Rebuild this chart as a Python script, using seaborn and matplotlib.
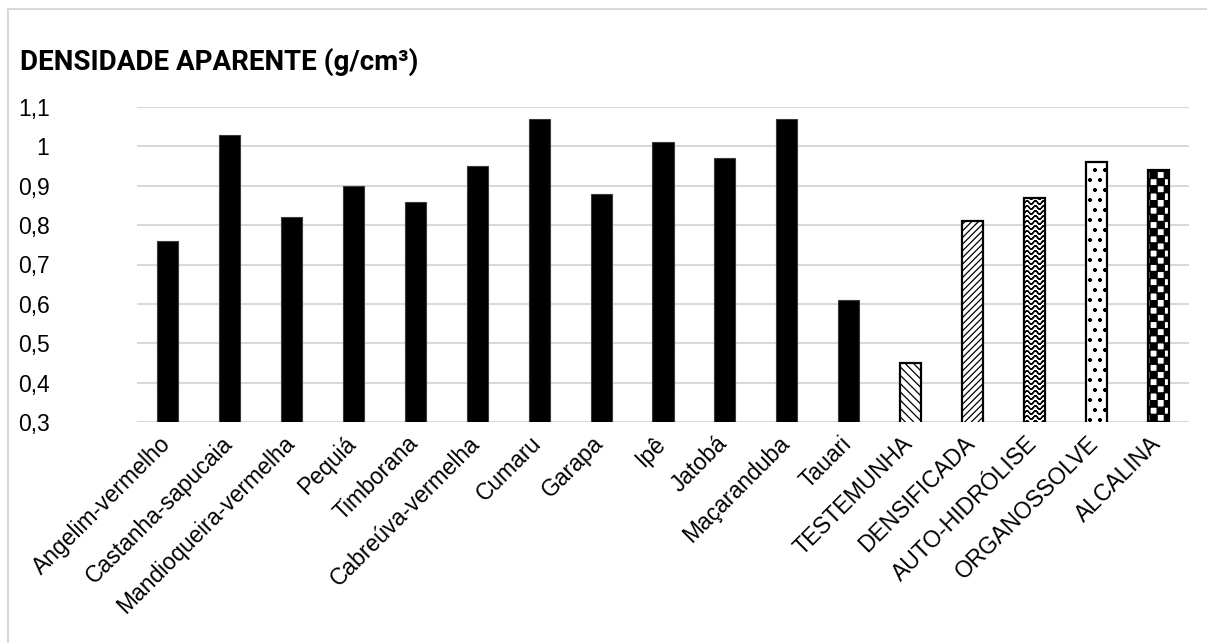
import warnings
import numpy as np
import matplotlib
matplotlib.use("Agg")
import matplotlib.pyplot as plt
import matplotlib.hatch as mhatch
from matplotlib.path import Path
from matplotlib.patches import Rectangle
import matplotlib.transforms as mtransforms
import seaborn as sns

warnings.filterwarnings("ignore")

# ---- data -----------------------------------------------------------------
categories = [
    "Angelim-vermelho", "Castanha-sapucaia", "Mandioqueira-vermelha", "Pequiá",
    "Timborana", "Cabreúva-vermelha", "Cumaru", "Garapa", "Ipê", "Jatobá",
    "Maçaranduba", "Tauari", "TESTEMUNHA", "DENSIFICADA", "AUTO-HIDRÓLISE",
    "ORGANOSSOLVE", "ALCALINA",
]
densidade = [0.76, 1.03, 0.82, 0.90, 0.86, 0.95, 1.07, 0.88, 1.01, 0.97,
             1.07, 0.61, 0.45, 0.81, 0.87, 0.96, 0.94]
y_ticks = [0.3, 0.4, 0.5, 0.6, 0.7, 0.8, 0.9, 1.0, 1.1]
y_tick_labels = ["0,3", "0,4", "0,5", "0,6", "0,7", "0,8", "0,9", "1", "1,1"]
title_text = "DENSIDADE APARENTE (g/cm³)"

# fill pattern per bar ("" = solid black)
bar_hatches = [""] * 12 + ["\\\\\\\\", "/////", "w", "d", "c"]


# ---- extra hatch patterns: checkerboard, waves, sparse dots ---------------
class CheckerHatch(mhatch.HatchPatternBase):
    def __init__(self, hatch, density):
        self.n = 14 if "c" in hatch else 0
        n = self.n
        self.cells = [(i, j) for i in range(n) for j in range(n) if (i + j) % 2 == 0]
        self.num_vertices = len(self.cells) * 5

    def set_vertices_and_codes(self, vertices, codes):
        s = 1.0 / self.n
        k = 0
        for i, j in self.cells:
            x0, y0 = i * s, j * s
            vertices[k:k + 5] = [(x0, y0), (x0 + s, y0), (x0 + s, y0 + s),
                                 (x0, y0 + s), (x0, y0)]
            codes[k:k + 5] = [Path.MOVETO, Path.LINETO, Path.LINETO,
                              Path.LINETO, Path.CLOSEPOLY]
            k += 5


class WaveHatch(mhatch.HatchPatternBase):
    def __init__(self, hatch, density):
        self.rows = 20 if "w" in hatch else 0
        self.periods = 12
        self.samples = self.periods * 8 + 1
        self.num_vertices = self.rows * self.samples * 2

    def set_vertices_and_codes(self, vertices, codes):
        t = np.linspace(0.0, 1.0, self.samples)
        amp = 0.018
        k = 0
        for r in range(self.rows):
            y = (r + 0.5) / self.rows + amp * np.sin(2 * np.pi * self.periods * t)
            pts = np.column_stack([t, y])
            both = np.vstack([pts, pts[::-1]])
            m = len(both)
            vertices[k:k + m] = both
            codes[k:k + m] = Path.LINETO
            codes[k] = Path.MOVETO
            k += m


class SparseDots(mhatch.Circles):
    size = 0.12

    def __init__(self, hatch, density):
        self.num_rows = 10 if "d" in hatch else 0
        super().__init__(hatch, density)


mhatch._hatch_types.extend([CheckerHatch, WaveHatch, SparseDots])

# ---- figure ---------------------------------------------------------------
sns.set_theme(style="white")
plt.rcParams["font.family"] = ["Liberation Sans", "DejaVu Sans"]
plt.rcParams["hatch.linewidth"] = 0.9

W, H = 1207, 643
fig = plt.figure(figsize=(W / 100, H / 100), dpi=100)
ax = fig.add_axes([137 / W, 1 - 422 / H, (1189 - 137) / W, (422 - 107) / H])

sns.barplot(x=categories, y=densidade, color="black", width=0.34,
            saturation=1, ax=ax)

for patch, hatch in zip(ax.patches, bar_hatches):
    if hatch:
        patch.set_facecolor("white")
        patch.set_edgecolor("black")
        patch.set_hatch(hatch)
        patch.set_linewidth(1.6)
    else:
        patch.set_facecolor("black")
        patch.set_edgecolor("#3a3a3a")
        patch.set_linewidth(0.8)
    patch.set_zorder(3)

ax.set_ylim(0.3, 1.1)
ax.set_xlim(-0.5, len(categories) - 0.5)
ax.set_yticks(y_ticks)
ax.set_yticklabels(y_tick_labels, fontsize=16.5, color="black")
ax.yaxis.grid(True, color="#d9d9d9", linewidth=1.5, zorder=0)
ax.set_axisbelow(True)
ax.tick_params(axis="y", length=0, pad=63)
ax.tick_params(axis="x", length=0, pad=0)
for side in ax.spines.values():
    side.set_visible(False)
ax.set_xlabel("")
ax.set_ylabel("")

ax.set_xticks(range(len(categories)))
ax.set_xticklabels(categories, fontsize=16.5, rotation=45, ha="right",
                   va="center", rotation_mode="anchor", color="black")
shift = mtransforms.ScaledTranslation(-1 / 100, -18 / 100, fig.dpi_scale_trans)
for lbl in ax.get_xticklabels():
    lbl.set_transform(lbl.get_transform() + shift)

fig.text(20 / W, 1 - 62 / H, title_text, fontsize=20, fontweight="bold",
         family=["Roboto", "DejaVu Sans"], ha="left", va="center",
         color="black")

# chart area frame (top and left edges visible)
fig.patches.append(Rectangle((8 / W, -0.1), 1.2, 1 - 9 / H + 0.1,
                             transform=fig.transFigure, fill=False,
                             edgecolor="#d9d9d9", linewidth=1.5))

fig.savefig("out.png", dpi=100)
